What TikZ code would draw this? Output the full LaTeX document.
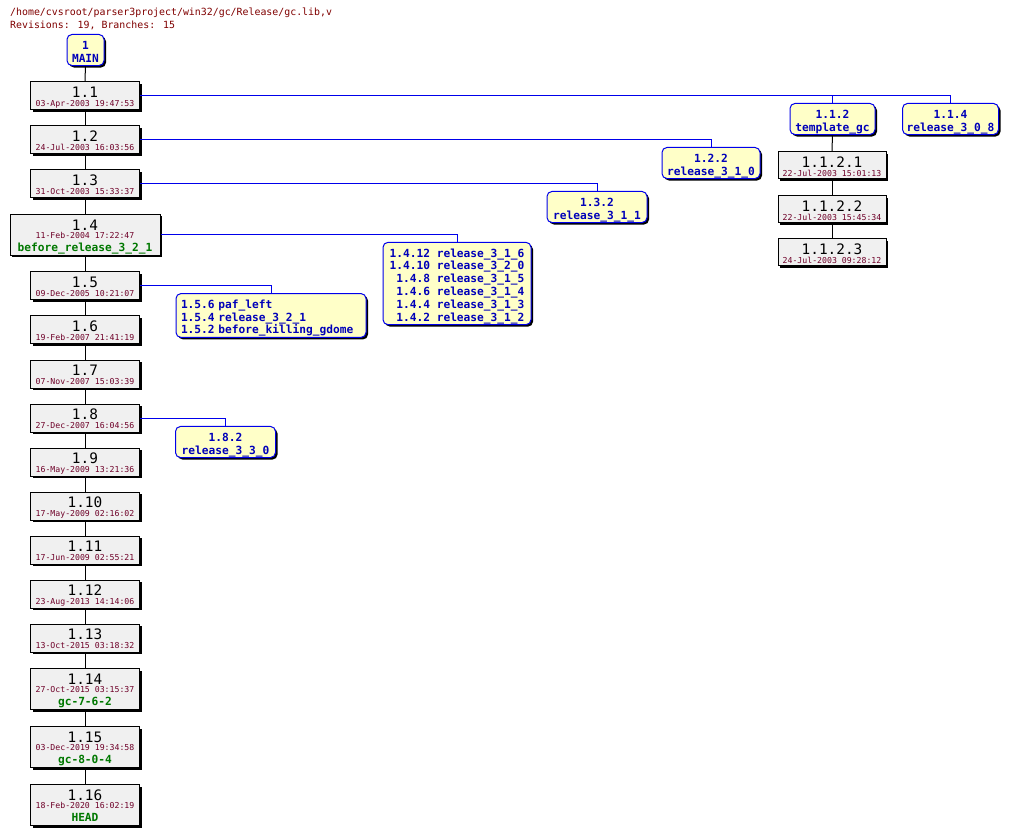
\documentclass[tikz,border=0pt]{standalone}
\usepackage{fontspec}
\usetikzlibrary{shadows}
\newfontfamily\mono{DejaVu Sans Mono}
\definecolor{revgray}{RGB}{240,240,240}
\definecolor{byellow}{RGB}{255,255,200}
\definecolor{bblue}{RGB}{0,0,235}
\definecolor{btext}{RGB}{0,0,185}
\definecolor{datec}{RGB}{110,0,40}
\definecolor{taggreen}{RGB}{0,120,0}
\definecolor{headc}{RGB}{128,0,0}
\newcommand\rvt[2]{\rule{0pt}{14.4pt}{\fontsize{14.4}{14.4}\selectfont #1}\\{\color{datec}#2\rule[-2pt]{0pt}{2pt}}}
\newcommand\rvtag[3]{\rule{0pt}{15.3pt}{\fontsize{14.4}{14.4}\selectfont #1}\\[-0.4pt]{\color{datec}#2}\\[3.8pt]{\color{taggreen}\bfseries\fontsize{11.2}{11.2}\selectfont #3\rule[-3.3pt]{0pt}{3.3pt}}}
\newcommand\bst{\rule{0pt}{14.8pt}}
\newcommand\bnd{\rule[-3.5pt]{0pt}{3.5pt}}
\tikzset{
  shadowed/.style={drop shadow={shadow xshift=2pt,shadow yshift=-2pt,opacity=1,fill=black}},
  rev/.style={draw=black,line width=1pt,fill=revgray,minimum width=109pt,minimum height=28pt,
    inner sep=0pt,align=center,font=\mono\fontsize{8.2}{9}\selectfont,shadowed},
  rev3/.style={rev,minimum height=41pt},
  br/.style={draw=bblue,line width=1pt,fill=byellow,rounded corners=5pt,inner sep=0pt,align=center,
    font=\mono\bfseries\fontsize{11.2}{12.8}\selectfont,text=btext,minimum height=30pt,shadowed},
  trunk/.style={draw=black,line width=1pt},
  bline/.style={draw=bblue,line width=1pt},
  head/.style={inner sep=0pt,anchor=base west,font=\mono\fontsize{9.9}{12}\selectfont,text=headc},
}
\begin{document}
\begin{tikzpicture}[x=1pt,y=-1pt]
\path[fill=white,use as bounding box] (0,0) rectangle (1013,837);
\node[head] (h1) at (10,16) {/home/cvsroot/parser3project/win32/gc/Release/gc.lib,v};
\node[head] (h2) at (10,29) {Revisions: 19, Branches: 15};
% trunk
\node[br,minimum width=37pt] (main) at (85.5,50) {\bst 1\\MAIN\bnd};
\node[rev] (n1) at (85,96) {\rvt{1.1}{03-Apr-2003 19:47:53}};
\node[rev] (n2) at (85,140) {\rvt{1.2}{24-Jul-2003 16:03:56}};
\node[rev] (n3) at (85,184) {\rvt{1.3}{31-Oct-2003 15:33:37}};
\node[rev3,minimum width=150pt] (n4) at (85,235) {\rvtag{1.4}{11-Feb-2004 17:22:47}{before\_release\_3\_2\_1}};
\node[rev] (n5) at (85,286) {\rvt{1.5}{09-Dec-2005 10:21:07}};
\node[rev] (n6) at (85,330) {\rvt{1.6}{19-Feb-2007 21:41:19}};
\node[rev] (n7) at (85,374) {\rvt{1.7}{07-Nov-2007 15:03:39}};
\node[rev] (n8) at (85,418) {\rvt{1.8}{27-Dec-2007 16:04:56}};
\node[rev] (n9) at (85,462) {\rvt{1.9}{16-May-2009 13:21:36}};
\node[rev] (n10) at (85,506) {\rvt{1.10}{17-May-2009 02:16:02}};
\node[rev] (n11) at (85,550) {\rvt{1.11}{17-Jun-2009 02:55:21}};
\node[rev] (n12) at (85,594) {\rvt{1.12}{23-Aug-2013 14:14:06}};
\node[rev] (n13) at (85,638) {\rvt{1.13}{13-Oct-2015 03:18:32}};
\node[rev3] (n14) at (85,689) {\rvtag{1.14}{27-Oct-2015 03:15:37}{gc-7-6-2}};
\node[rev3] (n15) at (85,747) {\rvtag{1.15}{03-Dec-2019 19:34:58}{gc-8-0-4}};
\node[rev3] (n16) at (85,805) {\rvtag{1.16}{18-Feb-2020 16:02:19}{HEAD}};
% branches
\node[br,minimum width=85pt] (b112) at (832.5,119) {\bst 1.1.2\\template\_gc\bnd};
\node[br,minimum width=96pt] (b114) at (950.5,119) {\bst 1.1.4\\release\_3\_0\_8\bnd};
\node[rev,minimum width=108pt,minimum height=27pt] (s1) at (832,165.5) {\rvt{1.1.2.1}{22-Jul-2003 15:01:13}};
\node[rev,minimum width=108pt,minimum height=27pt] (s2) at (832,209.5) {\rvt{1.1.2.2}{22-Jul-2003 15:45:34}};
\node[rev,minimum width=108pt,minimum height=27pt] (s3) at (832,252.5) {\rvt{1.1.2.3}{24-Jul-2003 09:28:12}};
\node[br,minimum width=98pt] (b122) at (711,163) {\bst 1.2.2\\release\_3\_1\_0\bnd};
\node[br,minimum width=100pt] (b132) at (597,207) {\bst 1.3.2\\release\_3\_1\_1\bnd};
\node[br,minimum width=148pt,minimum height=81pt,align=right] (b14) at (457,283.5)
  {\bst 1.4.12 release\_3\_1\_6\\1.4.10 release\_3\_2\_0\\1.4.8 release\_3\_1\_5\\1.4.6 release\_3\_1\_4\\1.4.4 release\_3\_1\_3\\1.4.2 release\_3\_1\_2\bnd};
\node[br,minimum width=190pt,minimum height=43pt,text width=180pt,align=left] (b15) at (271,315.5)
  {\bst 1.5.6 paf\_left\\1.5.4 release\_3\_2\_1\\1.5.2 before\_killing\_gdome\bnd};
\node[br,minimum width=100pt] (b182) at (225.5,442) {\bst 1.8.2\\release\_3\_3\_0\bnd};
% trunk connectors
\draw[trunk] (main) -- (n1);
\foreach \a/\b in {n1/n2,n2/n3,n3/n4,n4/n5,n5/n6,n6/n7,n7/n8,n8/n9,n9/n10,n10/n11,n11/n12,n12/n13,n13/n14,n14/n15,n15/n16,b112/s1,s1/s2,s2/s3}
  \draw[trunk] (\a) -- (\b);
% branch connectors
\draw[bline] (n1.east) -| (b114.north);
\draw[bline] (n1.east) -| (b112.north);
\draw[bline] (n2.east) -| (b122.north);
\draw[bline] (n3.east) -| (b132.north);
\draw[bline] (n4.east) -| (b14.north);
\draw[bline] (n5.east) -| (b15.north);
\draw[bline] (n8.east) -| (b182.north);
\end{tikzpicture}
\end{document}
